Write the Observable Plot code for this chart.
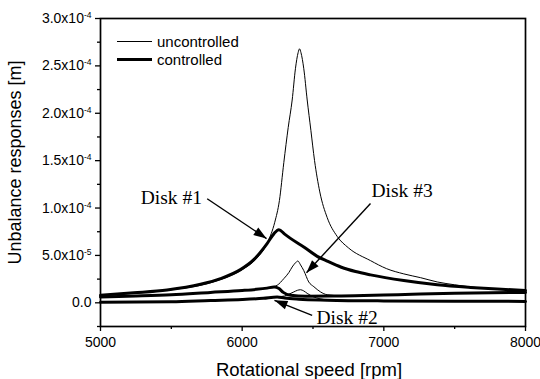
<!DOCTYPE html>
<html>
<head>
<meta charset="utf-8">
<script src="https://cdn.jsdelivr.net/npm/d3@7"></script>
<script src="https://cdn.jsdelivr.net/npm/@observablehq/plot@0.6"></script>
<style>
  html, body { margin: 0; padding: 0; background: #fff; }
  #chart { position: relative; width: 540px; height: 379px; }
  #legend { position: absolute; left: 117px; top: 33px; font-family: "Liberation Sans", Arial, sans-serif; font-size: 15px; color: #000; }
  #legend .row { display: flex; align-items: center; height: 17.6px; }
  #legend .swatch { width: 35px; margin-right: 5px; background: #000; }
</style>
</head>
<body>
<div id="chart"></div>
<script>
// ---- axes ----
const xDomain = [5000, 8000];
const yDomain = [-2.5e-5, 3.0e-4];
const xTicks = [5000, 6000, 7000, 8000];
const xTickLabels = ["5000", "6000", "7000", "8000"];
const xMinor = [5500, 6500, 7500];
const yTicks = [0, 5e-5, 1e-4, 1.5e-4, 2e-4, 2.5e-4, 3e-4];
const yTickLabels = ["0.0", "5.0x10^-5", "1.0x10^-4", "1.5x10^-4", "2.0x10^-4", "2.5x10^-4", "3.0x10^-4"];
const yMinor = [-2.5e-5, 2.5e-5, 7.5e-5, 1.25e-4, 1.75e-4, 2.25e-4, 2.75e-4];
const xTitle = "Rotational speed [rpm]";
const yTitle = "Unbalance responses [m]";
const legendLabels = ["uncontrolled", "controlled"];

// ---- series (rotational speed [rpm], response [m]) ----
const rpmUnc1 = [5000,5250,5500,5750,5900,6000,6100,6180,6230,6263,6294,6325,6353,6376,6395,6405,6415,6435,6459,6485,6511,6548,6600,6671,6750,6906,7020,7141,7260,7377,7500,7612,7730,7850,8000];
const resUnc1 = [0.78e-5,1.02e-5,1.38e-5,2.0e-5,2.75e-5,3.5e-5,4.65e-5,6.4e-5,8.5e-5,1.08e-4,1.48e-4,1.85e-4,2.14e-4,2.47e-4,2.64e-4,2.68e-4,2.64e-4,2.47e-4,2.14e-4,1.82e-4,1.50e-4,1.17e-4,9.0e-5,7.0e-5,5.8e-5,4.45e-5,3.6e-5,3.05e-5,2.65e-5,2.2e-5,1.9e-5,1.67e-5,1.5e-5,1.4e-5,1.32e-5];

const rpmCtl1 = [5000,5235,5470,5706,5847,5988,6082,6176,6225,6259,6300,6341,6435,6530,6600,6700,6800,6906,7141,7377,7612,7800,8000];
const resCtl1 = [0.8e-5,1.05e-5,1.35e-5,1.95e-5,2.55e-5,3.5e-5,4.55e-5,6.25e-5,7.3e-5,7.72e-5,7.25e-5,6.8e-5,5.9e-5,4.9e-5,4.4e-5,3.75e-5,3.3e-5,2.95e-5,2.35e-5,1.9e-5,1.62e-5,1.45e-5,1.3e-5];

const rpmUnc3 = [5000,5250,5500,5776,6000,6100,6150,6210,6247,6294,6330,6353,6375,6393,6412,6435,6470,6506,6553,6600,6700,7000,7200,7500,8000];
const resUnc3 = [0.62e-5,0.72e-5,0.85e-5,1.1e-5,1.3e-5,1.42e-5,1.5e-5,1.68e-5,1.85e-5,2.55e-5,3.2e-5,3.78e-5,4.2e-5,4.41e-5,4.0e-5,3.4e-5,2.2e-5,1.7e-5,1.15e-5,0.85e-5,0.74e-5,0.82e-5,0.9e-5,1.0e-5,1.1e-5];

const rpmCtl3 = [5000,5250,5500,5776,6000,6100,6176,6225,6260,6290,6341,6450,6700,7000,7200,7500,8000];
const resCtl3 = [0.62e-5,0.72e-5,0.85e-5,1.1e-5,1.3e-5,1.42e-5,1.55e-5,1.67e-5,1.5e-5,1.1e-5,0.8e-5,0.7e-5,0.72e-5,0.82e-5,0.9e-5,1.0e-5,1.1e-5];

const rpmUnc2 = [5000,5500,5776,6000,6150,6247,6300,6329,6365,6390,6412,6435,6459,6500,6550,6600,7000,7500,8000];
const resUnc2 = [0.05e-5,0.12e-5,0.25e-5,0.35e-5,0.48e-5,0.62e-5,0.72e-5,0.9e-5,1.15e-5,1.32e-5,1.38e-5,1.25e-5,1.0e-5,0.65e-5,0.42e-5,0.32e-5,0.2e-5,0.17e-5,0.15e-5];

const rpmCtl2 = [5000,5500,5776,6000,6150,6247,6300,6400,6600,7000,7500,8000];
const resCtl2 = [0.05e-5,0.12e-5,0.25e-5,0.35e-5,0.48e-5,0.62e-5,0.5e-5,0.38e-5,0.28e-5,0.2e-5,0.17e-5,0.15e-5];

// ---- annotations (data units) ----
const noteLabels = ["Disk #1", "Disk #3", "Disk #2"];
const noteRpm = [5500, 7129, 6741];
const noteRes = [1.105e-4, 1.182e-4, -1.54e-5];
const arrowFromRpm = [5753, 6906, 6494];
const arrowFromRes = [1.098e-4, 1.047e-4, -1.32e-5];
const arrowToRpm = [6172, 6454, 6228];
const arrowToRes = [6.78e-5, 3.17e-5, 0.26e-5];

// ---- build tables ----
const seriesList = [
  {name: "Disk #1", kind: "uncontrolled", rpm: rpmUnc1, res: resUnc1},
  {name: "Disk #1", kind: "controlled", rpm: rpmCtl1, res: resCtl1},
  {name: "Disk #3", kind: "uncontrolled", rpm: rpmUnc3, res: resUnc3},
  {name: "Disk #3", kind: "controlled", rpm: rpmCtl3, res: resCtl3},
  {name: "Disk #2", kind: "uncontrolled", rpm: rpmUnc2, res: resUnc2},
  {name: "Disk #2", kind: "controlled", rpm: rpmCtl2, res: resCtl2}
];
const rows = seriesList.flatMap(s => s.rpm.map((r, i) => ({series: s.name + " " + s.kind, kind: s.kind, rpm: r, res: s.res[i]})));
const uncRows = rows.filter(d => d.kind === "uncontrolled");
const ctlRows = rows.filter(d => d.kind === "controlled");
const notes = noteLabels.map((t, i) => ({text: t, rpm: noteRpm[i], res: noteRes[i]}));

const W = 540, H = 379;
const M = {top: 18, right: 15, bottom: 53, left: 100};
const xs = Plot.scale({x: {domain: xDomain, range: [M.left, W - M.right]}});
const ys = Plot.scale({y: {domain: yDomain, range: [H - M.bottom, M.top]}});
const arrows = arrowFromRpm.map((r, i) => {
  const dx = xs.apply(arrowToRpm[i]) - xs.apply(r);
  const dy = ys.apply(arrowToRes[i]) - ys.apply(arrowFromRes[i]);
  const len = Math.hypot(dx, dy);
  return {x1: r, y1: arrowFromRes[i], x2: arrowToRpm[i], y2: arrowToRes[i],
          angle: Math.atan2(dx / len, -dy / len) * 180 / Math.PI};
});
const arrowHead = {
  draw(context) {
    context.moveTo(0, 0);
    context.lineTo(-4.5, 13);
    context.lineTo(4.5, 13);
    context.closePath();
  }
};

const chart = Plot.plot({
  width: W, height: H,
  marginTop: M.top, marginRight: M.right, marginBottom: M.bottom, marginLeft: M.left,
  style: {fontFamily: '"Liberation Sans", Arial, sans-serif', fontSize: "14px", background: "#fff", color: "#000", overflow: "visible"},
  x: {domain: xDomain, label: null},
  y: {domain: yDomain, label: null},
  marks: [
    Plot.axisX({ticks: xTicks, tickSize: 5, tickPadding: 6, tickFormat: d => xTickLabels[xTicks.indexOf(d)], label: null, strokeWidth: 1.3, fontSize: 14}),
    Plot.axisX({ticks: xMinor, tickSize: 3, tickFormat: () => "", label: null, strokeWidth: 1.3}),
    Plot.axisY({ticks: yTicks, tickSize: 5, tickPadding: 4, tickFormat: d => yTickLabels[yTicks.indexOf(d)], label: null, strokeWidth: 1.3, fontSize: 14}),
    Plot.axisY({ticks: yMinor, tickSize: 3, tickFormat: () => "", label: null, strokeWidth: 1.3}),
    Plot.line(ctlRows, {x: "rpm", y: "res", z: "series", stroke: "#000", strokeWidth: 3, curve: "monotone-x", strokeLinejoin: "round"}),
    Plot.line(uncRows, {x: "rpm", y: "res", z: "series", stroke: "#000", strokeWidth: 1, curve: "monotone-x"}),
    Plot.frame({stroke: "#000", strokeWidth: 1.7}),
    Plot.link(arrows, {x1: "x1", y1: "y1", x2: "x2", y2: "y2", stroke: "#000", strokeWidth: 1.4}),
    Plot.dot(arrows, {x: "x2", y: "y2", symbol: arrowHead, r: 6, fill: "#000", stroke: "none", rotate: "angle"}),
    Plot.text(notes, {x: "rpm", y: "res", text: "text", fontFamily: '"Liberation Serif", "Times New Roman", serif', fontSize: 19.5, fill: "#000"}),
    Plot.text([xTitle], {frameAnchor: "bottom", text: d => d, textAnchor: "middle", lineAnchor: "middle", dy: 44, dx: -4, fontSize: 18.5, fill: "#000"}),
    Plot.text([yTitle], {frameAnchor: "left", text: d => d, textAnchor: "middle", lineAnchor: "middle", dx: -85, dy: -10, rotate: -90, fontSize: 18, fill: "#000"})
  ]
});

// superscript exponents in y tick labels
d3.select(chart).selectAll("text").each(function () {
  const t = d3.select(this);
  const s = t.text();
  if (s.includes("^")) {
    const [base, sup] = s.split("^");
    t.text(null);
    t.append("tspan").text(base);
    t.append("tspan").attr("dy", "-5").attr("font-size", "8.5px").text(sup);
  }
});

const container = document.getElementById("chart");
container.appendChild(chart);

// legend
const legend = document.createElement("div");
legend.id = "legend";
legendLabels.forEach((lab, i) => {
  const row = document.createElement("div");
  row.className = "row";
  const sw = document.createElement("span");
  sw.className = "swatch";
  sw.style.height = (i === 0 ? 1 : 3) + "px";
  const tx = document.createElement("span");
  tx.textContent = lab;
  row.appendChild(sw);
  row.appendChild(tx);
  legend.appendChild(row);
});
container.appendChild(legend);
</script>
</body>
</html>
